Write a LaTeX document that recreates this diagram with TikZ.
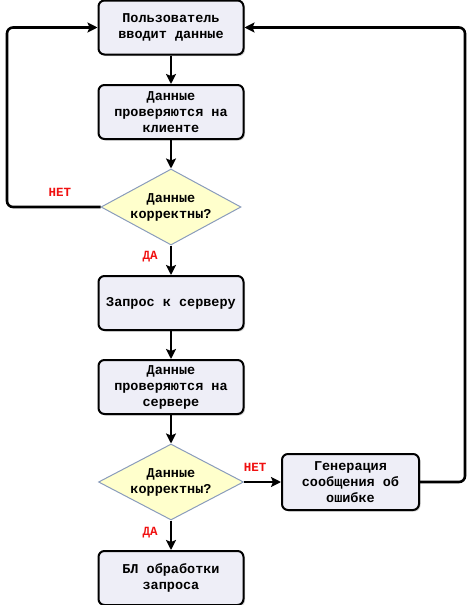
\documentclass[tikz,border=0pt]{standalone}
\usepackage{fontspec}
\setmonofont{Liberation Mono}
\usetikzlibrary{shapes.geometric,arrows.meta,shadows}
\definecolor{boxfill}{HTML}{EEEEF7}
\definecolor{dfill}{HTML}{FFFFCC}
\definecolor{dline}{HTML}{8A9CBC}
\definecolor{lblred}{HTML}{F01010}
\begin{document}
\begin{tikzpicture}[x=1pt,y=-1pt,
  font=\ttfamily\bfseries\fontsize{13.5}{16}\selectfont,
  procbox/.style={draw=black, line width=2pt, fill=boxfill, rounded corners=6pt,
     minimum width=145pt, minimum height=54pt, align=center, inner sep=1pt,
     drop shadow={shadow xshift=1.5pt, shadow yshift=-1.5pt, opacity=0.35}},
  decide/.style={diamond, aspect=1.85, draw=dline, line width=1pt, fill=dfill, inner sep=0pt,
     minimum width=140pt, minimum height=76pt, align=center},
  arr/.style={line width=2.6pt, -{Stealth[length=10pt,width=10pt,inset=2pt]}},
  lbl/.style={text=lblred, font=\ttfamily\bfseries\fontsize{12.5}{14}\selectfont}]
\useasboundingbox (0,0) rectangle (474,605);
\node[procbox] (b1) at (171,27.5) {Пользователь\\вводит данные};
\node[procbox] (b2) at (171,112) {Данные\\проверяются на\\клиенте};
\node[decide] (d1) at (171,207) {Данные\\корректны?};
\node[procbox] (b3) at (171,303) {Запрос к серверу};
\node[procbox] (b4) at (171,387) {Данные\\проверяются на\\сервере};
\node[decide, minimum width=145pt] (d2) at (171,482) {Данные\\корректны?};
\node[procbox, minimum width=137pt, minimum height=56pt] (b5) at (350.5,482) {Генерация\\сообщения об\\ошибке};
\node[procbox] (b6) at (171,578) {БЛ обработки\\запроса};
\coordinate (L) at (7,207);
\coordinate (R) at (465,482);
\draw[arr] (b1) -- (b2);
\draw[arr] (b2) -- (d1);
\draw[arr] (d1) -- (b3);
\draw[arr] (b3) -- (b4);
\draw[arr] (b4) -- (d2);
\draw[arr] (d2) -- (b6);
\draw[arr] (d2) -- (b5);
\draw[arr, rounded corners=6pt] (d1.west) -- (L) |- (b1.west);
\draw[arr, rounded corners=6pt] (b5.east) -- (R) |- (b1.east);
\node[lbl] (n1) at (60,192) {НЕТ};
\node[lbl] (y1) at (150,257) {ДА};
\node[lbl] (n2) at (255,467) {НЕТ};
\node[lbl] (y2) at (150,533) {ДА};
\end{tikzpicture}
\end{document}
